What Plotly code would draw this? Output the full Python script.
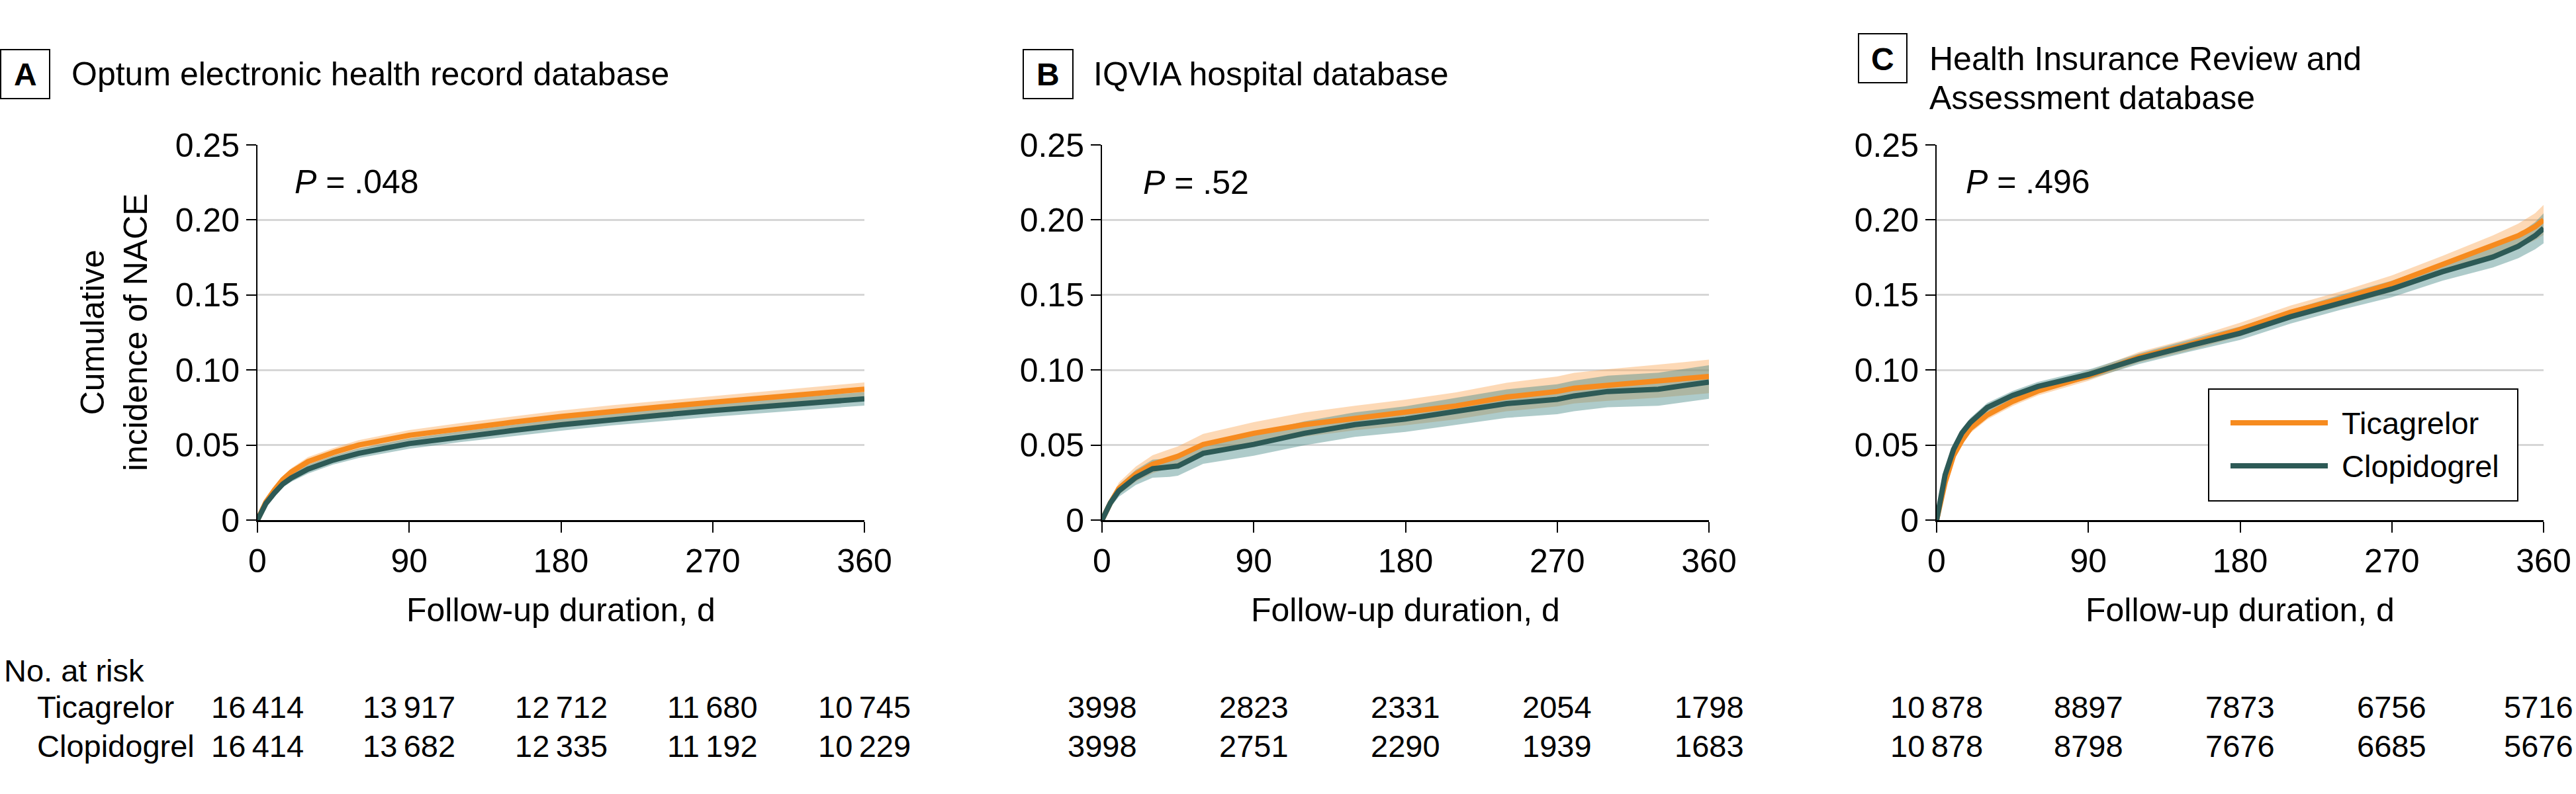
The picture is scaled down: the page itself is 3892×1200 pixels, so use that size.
import plotly.graph_objects as go

W, H = 3892, 1200
FONT = "Liberation Sans, Arial, sans-serif"

# ---------------- data ----------------
days_A = [0, 2, 5, 10, 15, 20, 30, 45, 60, 90, 120, 150, 180, 210, 240, 270, 300, 330, 360]
tica_A = [0, 0.005, 0.012, 0.020, 0.027, 0.032, 0.039, 0.045, 0.050, 0.0565, 0.061, 0.065, 0.069, 0.0725, 0.0755, 0.0785, 0.0815, 0.0845, 0.0872]
clop_A = [0, 0.005, 0.011, 0.018, 0.024, 0.028, 0.034, 0.040, 0.0445, 0.051, 0.0555, 0.0595, 0.0635, 0.067, 0.070, 0.073, 0.0757, 0.0783, 0.0808]
ci_A = [0, 0.001, 0.0015, 0.002, 0.0022, 0.0025, 0.003, 0.003, 0.0032, 0.0035, 0.0036, 0.0038, 0.004, 0.004, 0.0041, 0.0042, 0.0043, 0.0044, 0.0045]

days_B = [0, 2, 5, 10, 20, 30, 40, 45, 60, 90, 120, 150, 180, 210, 240, 270, 280, 300, 330, 360]
tica_B = [0, 0.005, 0.0115, 0.021, 0.0306, 0.0372, 0.041, 0.0425, 0.0504, 0.0578, 0.0636, 0.068, 0.0717, 0.0761, 0.082, 0.0857, 0.0879, 0.090, 0.0926, 0.0957]
clop_B = [0, 0.005, 0.0115, 0.0195, 0.0284, 0.0342, 0.035, 0.036, 0.0445, 0.0504, 0.0578, 0.0636, 0.0673, 0.0725, 0.0776, 0.0805, 0.0827, 0.0857, 0.0872, 0.092]
ci_B = [0, 0.002, 0.003, 0.004, 0.005, 0.006, 0.0062, 0.0065, 0.007, 0.0075, 0.008, 0.0082, 0.0085, 0.009, 0.0095, 0.010, 0.0102, 0.0105, 0.011, 0.0112]

days_C = [0, 2, 5, 10, 15, 20, 30, 45, 60, 90, 120, 150, 180, 210, 240, 270, 300, 330, 345, 355, 360]
tica_C = [0, 0.010, 0.025, 0.043, 0.053, 0.061, 0.070, 0.079, 0.086, 0.096, 0.1085, 0.117, 0.127, 0.1385, 0.1474, 0.1575, 0.170, 0.1827, 0.1895, 0.1955, 0.200]
clop_C = [0, 0.011, 0.030, 0.047, 0.058, 0.065, 0.075, 0.083, 0.089, 0.097, 0.1075, 0.1162, 0.1245, 0.1355, 0.1452, 0.154, 0.1655, 0.1753, 0.1825, 0.1895, 0.1944]
ci_C = [0, 0.002, 0.0025, 0.003, 0.003, 0.003, 0.003, 0.003, 0.003, 0.0032, 0.0035, 0.004, 0.0045, 0.0045, 0.005, 0.0055, 0.006, 0.007, 0.008, 0.009, 0.010]

risk_days = [0, 90, 180, 270, 360]
risk_tica_A = [16414, 13917, 12712, 11680, 10745]
risk_clop_A = [16414, 13682, 12335, 11192, 10229]
risk_tica_B = [3998, 2823, 2331, 2054, 1798]
risk_clop_B = [3998, 2751, 2290, 1939, 1683]
risk_tica_C = [10878, 8897, 7873, 6756, 5716]
risk_clop_C = [10878, 8798, 7676, 6685, 5676]

y_ticks = [0, 0.05, 0.10, 0.15, 0.20, 0.25]
y_ticktext = ["0", "0.05", "0.10", "0.15", "0.20", "0.25"]
x_ticks = [0, 90, 180, 270, 360]

panel_letters = ["A", "B", "C"]
panel_titles = ["Optum electronic health record database", "IQVIA hospital database",
                "Health Insurance Review and", "Assessment database"]
p_values = [".048", ".52", ".496"]
group_names = ["Ticagrelor", "Clopidogrel"]

# ---------------- styling ----------------
ORANGE = "#F68B1F"
TEAL = "#2D5A56"
ORANGE_BAND = "rgba(251,165,80,0.42)"
TEAL_BAND = "rgba(75,140,138,0.45)"

def px(x):
    return x / W

def py(y):
    return 1 - y / H

x_domains = [(389, 1306), (1665, 2582), (2926, 3843)]
y_domain = [py(786), py(219)]

fig = go.Figure()

panels = [
    (days_A, tica_A, clop_A, ci_A),
    (days_B, tica_B, clop_B, ci_B),
    (days_C, tica_C, clop_C, ci_C),
]

for i, (d, t, c, ci) in enumerate(panels):
    xa = "x" if i == 0 else f"x{i+1}"
    ya = "y" if i == 0 else f"y{i+1}"
    for vals, band in ((t, ORANGE_BAND), (c, TEAL_BAND)):
        up = [v + e for v, e in zip(vals, ci)]
        lo = [max(v - e, 0) for v, e in zip(vals, ci)]
        fig.add_trace(go.Scatter(x=d + d[::-1], y=up + lo[::-1], fill="toself",
                                 fillcolor=band, line=dict(width=0), mode="lines",
                                 hoverinfo="skip", showlegend=False, xaxis=xa, yaxis=ya))
    for vals, col, name in ((t, ORANGE, group_names[0]), (c, TEAL, group_names[1])):
        fig.add_trace(go.Scatter(x=d, y=vals, mode="lines", name=name,
                                 line=dict(color=col, width=8), showlegend=False,
                                 xaxis=xa, yaxis=ya))

layout = dict(
    template="none",
    width=W, height=H,
    autosize=False,
    margin=dict(l=0, r=0, t=0, b=0, pad=0, autoexpand=False),
    paper_bgcolor="white", plot_bgcolor="white",
    font=dict(family=FONT, size=50, color="black"),
    showlegend=False,
)
for i, (x0, x1) in enumerate(x_domains):
    sfx = "" if i == 0 else str(i + 1)
    layout["xaxis" + sfx] = dict(
        domain=[px(x0), px(x1)], range=[0, 360], tickvals=x_ticks,
        ticks="outside", ticklen=16, tickwidth=2, tickcolor="black",
        showline=True, linewidth=3, linecolor="black", showgrid=False, zeroline=False,
        tickfont=dict(size=50), anchor="y" + sfx, automargin=False,
    )
    layout["yaxis" + sfx] = dict(
        domain=y_domain, range=[0, 0.25], tickvals=y_ticks, ticktext=y_ticktext,
        ticks="outside", ticklen=15, tickwidth=2, tickcolor="black",
        showline=True, linewidth=2, linecolor="black",
        showgrid=True, gridcolor="#D6D6D6", gridwidth=3, zeroline=False,
        tickfont=dict(size=50), anchor="x" + sfx, automargin=False,
    )
fig.update_layout(**layout)

ann = []
shapes = []

# panel letter boxes and titles
boxes = [(1, 75, 75, 149), (1546, 1621, 75, 149), (2808, 2881, 51, 125)]
for letter, (bx0, bx1, by0, by1) in zip(panel_letters, boxes):
    shapes.append(dict(type="rect", xref="paper", yref="paper",
                       x0=px(bx0), x1=px(bx1), y0=py(by1), y1=py(by0),
                       line=dict(color="black", width=2)))
    ann.append(dict(text=f"<b>{letter}</b>", xref="paper", yref="paper",
                    x=px((bx0 + bx1) / 2), y=py((by0 + by1) / 2 + 1),
                    xanchor="center", yanchor="middle", showarrow=False,
                    font=dict(size=48)))

title_pos = [(106, 112), (1650, 112), (2913, 89), (2913, 148)]
for txt, (tx, ty) in zip(panel_titles, title_pos):
    ann.append(dict(text=txt, xref="paper", yref="paper", x=px(tx), y=py(ty),
                    xanchor="left", yanchor="middle", showarrow=False,
                    font=dict(size=50)))

# P values
p_pos = [(443, 275), (1725, 276), (2968, 275)]
for pv, (tx, ty) in zip(p_values, p_pos):
    ann.append(dict(text=f"<i>P</i> = {pv}", xref="paper", yref="paper",
                    x=px(tx), y=py(ty), xanchor="left", yanchor="middle",
                    showarrow=False, font=dict(size=50)))

# axis titles
for (x0, x1) in x_domains:
    ann.append(dict(text="Follow-up duration, d", xref="paper", yref="paper",
                    x=px((x0 + x1) / 2), y=py(922), xanchor="center", yanchor="middle",
                    showarrow=False, font=dict(size=50)))
ann.append(dict(text="Cumulative<br>incidence of NACE", xref="paper", yref="paper",
                x=px(172), y=py(502), xanchor="center", yanchor="middle",
                textangle=-90, showarrow=False, font=dict(size=50)))

# numbers at risk
def fmt(n):
    return f"{n:,}".replace(",", "\u2009") if n >= 10000 else str(n)

ann.append(dict(text="No. at risk", xref="paper", yref="paper", x=px(4), y=py(1013),
                xanchor="left", yanchor="middle", showarrow=False, font=dict(size=47)))
ann.append(dict(text=group_names[0], xref="paper", yref="paper", x=px(54), y=py(1068),
                xanchor="left", yanchor="middle", showarrow=False, font=dict(size=47)))
ann.append(dict(text=group_names[1], xref="paper", yref="paper", x=px(54), y=py(1127),
                xanchor="left", yanchor="middle", showarrow=False, font=dict(size=47)))
risk = [(risk_tica_A, risk_clop_A), (risk_tica_B, risk_clop_B), (risk_tica_C, risk_clop_C)]
for i, (rt, rc) in enumerate(risk):
    xr = "x" if i == 0 else f"x{i+1}"
    for row, yy in ((rt, 1068), (rc, 1127)):
        for dd, n in zip(risk_days, row):
            # keep the last column of the right panel inside the page
            shift = -8 if (i == 2 and dd == risk_days[-1]) else 0
            ann.append(dict(text=fmt(n), xref=xr, yref="paper", x=dd, y=py(yy),
                            xanchor="center", yanchor="middle", showarrow=False,
                            xshift=shift, font=dict(size=47)))

# legend (panel C)
shapes.append(dict(type="rect", xref="paper", yref="paper",
                   x0=px(3337), x1=px(3804), y0=py(757), y1=py(588),
                   line=dict(color="black", width=2), fillcolor="white"))
for col, name, yy in ((ORANGE, group_names[0], 639), (TEAL, group_names[1], 704)):
    shapes.append(dict(type="line", xref="paper", yref="paper",
                       x0=px(3370), x1=px(3517), y0=py(yy), y1=py(yy),
                       line=dict(color=col, width=8)))
    ann.append(dict(text=name, xref="paper", yref="paper", x=px(3536), y=py(yy),
                    xanchor="left", yanchor="middle", showarrow=False,
                    font=dict(size=47)))

fig.update_layout(annotations=ann, shapes=shapes)
fig.write_html("out.html", config={"displayModeBar": False},
               post_script="document.body.style.margin='0px';document.body.style.overflow='hidden';")
